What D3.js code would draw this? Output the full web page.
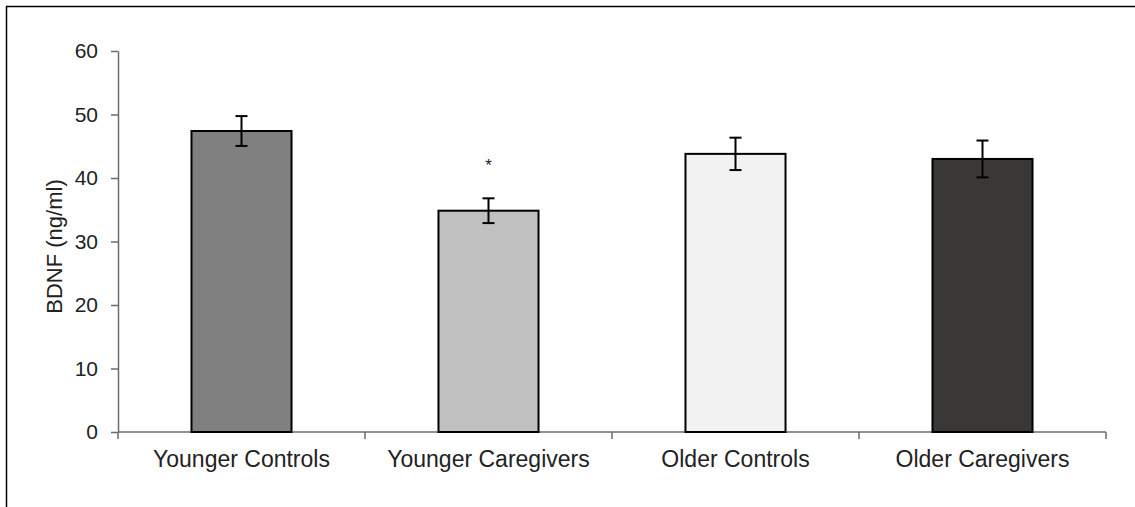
<!DOCTYPE html>
<html>
<head>
<meta charset="utf-8">
<script src="https://cdn.jsdelivr.net/npm/d3@7"></script>
<style>
  html, body { margin: 0; padding: 0; background: #fff; }
  svg { display: block; }
  text { font-family: "Liberation Sans", Arial, sans-serif; fill: #222; }
</style>
</head>
<body>
<svg id="chart" width="1135" height="507"></svg>
<script>
// BDNF levels by group (mean ± SE)
const groups = ["Younger Controls", "Younger Caregivers", "Older Controls", "Older Caregivers"];
const means = [47.4, 34.85, 43.8, 43.0];
const errors = [2.35, 1.95, 2.55, 2.9];
const fills = ["#808080", "#c0c0c0", "#f2f2f2", "#3a3836"];
const significant = [false, true, false, false];
const yTicks = [0, 10, 20, 30, 40, 50, 60];

const svg = d3.select("#chart");
const W = 1135, H = 507;
const margin = { left: 118, right: 29, top: 51, bottom: 75 };

// Partial frame: top and left edges
svg.append("line").attr("x1", 6).attr("x2", W).attr("y1", 6.5).attr("y2", 6.5)
  .attr("stroke", "#000").attr("stroke-width", 1.5);
svg.append("line").attr("x1", 6.5).attr("x2", 6.5).attr("y1", 6).attr("y2", H)
  .attr("stroke", "#000").attr("stroke-width", 1.5);

const x = d3.scaleBand().domain(groups)
  .range([margin.left, W - margin.right]).paddingInner(0).paddingOuter(0);
const y = d3.scaleLinear().domain([0, 60]).range([H - margin.bottom, margin.top]);

const barW = x.bandwidth() * 0.405;

// Y axis
const yAxis = svg.append("g").attr("transform", `translate(${margin.left},0)`)
  .call(d3.axisLeft(y).tickValues(yTicks).tickSize(7).tickPadding(13).tickSizeOuter(0));
yAxis.selectAll("path, line").attr("stroke", "#6b6b6b").attr("stroke-width", 1.5);
yAxis.selectAll("text").attr("font-size", 21).attr("fill", "#222");

// X axis with ticks at category boundaries
const xAxisG = svg.append("g").attr("transform", `translate(0,${y(0)})`);
xAxisG.append("line").attr("x1", margin.left).attr("x2", W - margin.right)
  .attr("stroke", "#6b6b6b").attr("stroke-width", 1.5);
const boundaries = groups.map(g => x(g)).concat([x(groups[groups.length - 1]) + x.bandwidth()]);
xAxisG.selectAll("line.tick").data(boundaries).join("line").attr("class", "tick")
  .attr("x1", d => d).attr("x2", d => d).attr("y1", 0).attr("y2", 7)
  .attr("stroke", "#6b6b6b").attr("stroke-width", 1.5);
xAxisG.selectAll("text").data(groups).join("text")
  .attr("x", d => x(d) + x.bandwidth() / 2).attr("y", 35)
  .attr("text-anchor", "middle").attr("font-size", 23).text(d => d);

// Bars
svg.selectAll("rect.bar").data(groups).join("rect").attr("class", "bar")
  .attr("x", d => x(d) + x.bandwidth() / 2 - barW / 2)
  .attr("width", barW)
  .attr("y", (d, i) => y(means[i]))
  .attr("height", (d, i) => y(0) - y(means[i]))
  .attr("fill", (d, i) => fills[i])
  .attr("stroke", "#000").attr("stroke-width", 2);

// Error bars
const cap = 6;
const eb = svg.selectAll("g.err").data(groups).join("g").attr("class", "err");
eb.append("line")
  .attr("x1", d => x(d) + x.bandwidth() / 2).attr("x2", d => x(d) + x.bandwidth() / 2)
  .attr("y1", (d, i) => y(means[i] + errors[i])).attr("y2", (d, i) => y(means[i] - errors[i]))
  .attr("stroke", "#000").attr("stroke-width", 2);
eb.append("line")
  .attr("x1", d => x(d) + x.bandwidth() / 2 - cap).attr("x2", d => x(d) + x.bandwidth() / 2 + cap)
  .attr("y1", (d, i) => y(means[i] + errors[i])).attr("y2", (d, i) => y(means[i] + errors[i]))
  .attr("stroke", "#000").attr("stroke-width", 2);
eb.append("line")
  .attr("x1", d => x(d) + x.bandwidth() / 2 - cap).attr("x2", d => x(d) + x.bandwidth() / 2 + cap)
  .attr("y1", (d, i) => y(means[i] - errors[i])).attr("y2", (d, i) => y(means[i] - errors[i]))
  .attr("stroke", "#000").attr("stroke-width", 2);

// Significance marker
svg.selectAll("text.sig").data(groups.filter((d, i) => significant[i])).join("text")
  .attr("class", "sig")
  .attr("x", d => x(d) + x.bandwidth() / 2)
  .attr("y", d => y(means[groups.indexOf(d)] + errors[groups.indexOf(d)]) - 27)
  .attr("text-anchor", "middle").attr("font-size", 17).text("*");

// Y axis title
svg.append("text")
  .attr("transform", "translate(62,246.5) rotate(-90)")
  .attr("text-anchor", "middle").attr("font-size", 22).text("BDNF (ng/ml)");
</script>
</body>
</html>
